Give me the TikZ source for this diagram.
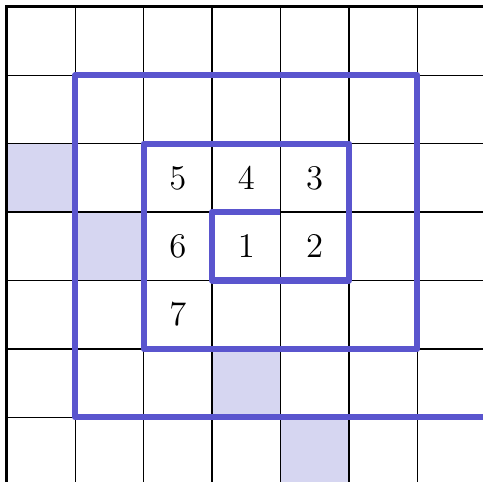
\documentclass[tikz,border=0pt]{standalone}
\definecolor{espiral}{RGB}{90,85,206}
\definecolor{casa}{RGB}{214,214,241}
\begin{document}
\begin{tikzpicture}
			\useasboundingbox (-0.1,0.1) rectangle (6.96,-6.94);
			\clip (-0.1,0.1) rectangle (6.96,-6.94);
			
			% Casas sombreadas
			\fill[casa] (0,-2) rectangle (1,-3);
			\fill[casa] (1,-3) rectangle (2,-4);
			\fill[casa] (3,-5) rectangle (4,-6);
			\fill[casa] (4,-6) rectangle (5,-7);
			
			% Malha quadriculada
			\draw[line width=0.6pt] (0,0) grid (8,-8);
			
			% Eixos em destaque
			\draw[line width=1.3pt] (0,-8) -- (0,0) -- (8,0);
			
			% Espiral
			\draw[espiral, line width=2.6pt, line join=round]
				(4,-3) -- (3,-3) -- (3,-4) -- (5,-4) -- (5,-2) -- (2,-2) -- (2,-5)
				-- (6,-5) -- (6,-1) -- (1,-1) -- (1,-6) -- (7,-6) -- (7,-1);
			
			% Números das casas
			\node[font=\Large] (n1) at (3.5,-3.5) {$1$};
			\node[font=\Large] (n2) at (4.5,-3.5) {$2$};
			\node[font=\Large] (n3) at (4.5,-2.5) {$3$};
			\node[font=\Large] (n4) at (3.5,-2.5) {$4$};
			\node[font=\Large] (n5) at (2.5,-2.5) {$5$};
			\node[font=\Large] (n6) at (2.5,-3.5) {$6$};
			\node[font=\Large] (n7) at (2.5,-4.5) {$7$};
		\end{tikzpicture}
\end{document}
